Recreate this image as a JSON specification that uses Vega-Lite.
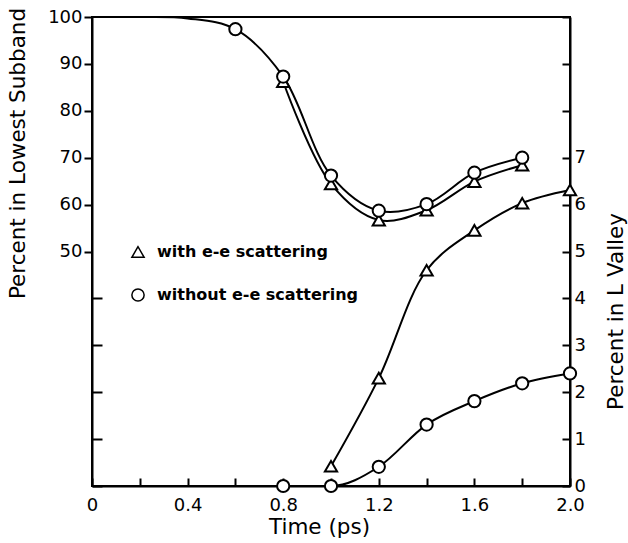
{
  "$schema": "https://vega.github.io/schema/vega-lite/v6.json",
  "width": 478,
  "height": 469,
  "autosize": {"type": "none"},
  "padding": {"left": 92, "top": 17, "right": 58, "bottom": 57},
  "background": "white",
  "config": {
    "font": "DejaVu Sans",
    "view": {"stroke": "black", "strokeWidth": 2},
    "axis": {
      "domainColor": "black", "domainWidth": 2,
      "tickColor": "black", "tickWidth": 2,
      "labelColor": "black", "titleColor": "black",
      "labelFont": "DejaVu Sans", "titleFont": "DejaVu Sans",
      "labelFontSize": 18, "titleFontSize": 21.5, "titleFontWeight": "normal",
      "grid": false
    }
  },
  "data": {
    "values": [
      {"quantity": "subband", "scattering": "with e-e scattering", "time": 0.8, "percent": 86.2, "marked": true},
      {"quantity": "subband", "scattering": "with e-e scattering", "time": 1.0, "percent": 64.4, "marked": true},
      {"quantity": "subband", "scattering": "with e-e scattering", "time": 1.2, "percent": 56.7, "marked": true},
      {"quantity": "subband", "scattering": "with e-e scattering", "time": 1.4, "percent": 58.8, "marked": true},
      {"quantity": "subband", "scattering": "with e-e scattering", "time": 1.6, "percent": 64.9, "marked": true},
      {"quantity": "subband", "scattering": "with e-e scattering", "time": 1.8, "percent": 68.4, "marked": true},
      {"quantity": "subband", "scattering": "without e-e scattering", "time": 0.0, "percent": 100, "marked": false},
      {"quantity": "subband", "scattering": "without e-e scattering", "time": 0.2, "percent": 100, "marked": false},
      {"quantity": "subband", "scattering": "without e-e scattering", "time": 0.4, "percent": 99.7, "marked": false},
      {"quantity": "subband", "scattering": "without e-e scattering", "time": 0.6, "percent": 97.4, "marked": true},
      {"quantity": "subband", "scattering": "without e-e scattering", "time": 0.8, "percent": 87.3, "marked": true},
      {"quantity": "subband", "scattering": "without e-e scattering", "time": 1.0, "percent": 66.2, "marked": true},
      {"quantity": "subband", "scattering": "without e-e scattering", "time": 1.2, "percent": 58.7, "marked": true},
      {"quantity": "subband", "scattering": "without e-e scattering", "time": 1.4, "percent": 60.1, "marked": true},
      {"quantity": "subband", "scattering": "without e-e scattering", "time": 1.6, "percent": 66.8, "marked": true},
      {"quantity": "subband", "scattering": "without e-e scattering", "time": 1.8, "percent": 70.0, "marked": true},
      {"quantity": "lvalley", "scattering": "with e-e scattering", "time": 1.0, "percent": 0.42, "marked": true},
      {"quantity": "lvalley", "scattering": "with e-e scattering", "time": 1.2, "percent": 2.3, "marked": true},
      {"quantity": "lvalley", "scattering": "with e-e scattering", "time": 1.4, "percent": 4.6, "marked": true},
      {"quantity": "lvalley", "scattering": "with e-e scattering", "time": 1.6, "percent": 5.45, "marked": true},
      {"quantity": "lvalley", "scattering": "with e-e scattering", "time": 1.8, "percent": 6.03, "marked": true},
      {"quantity": "lvalley", "scattering": "with e-e scattering", "time": 2.0, "percent": 6.31, "marked": true},
      {"quantity": "lvalley", "scattering": "without e-e scattering", "time": 0.8, "percent": 0, "marked": true},
      {"quantity": "lvalley", "scattering": "without e-e scattering", "time": 1.0, "percent": 0, "marked": true},
      {"quantity": "lvalley", "scattering": "without e-e scattering", "time": 1.2, "percent": 0.41, "marked": true},
      {"quantity": "lvalley", "scattering": "without e-e scattering", "time": 1.4, "percent": 1.31, "marked": true},
      {"quantity": "lvalley", "scattering": "without e-e scattering", "time": 1.6, "percent": 1.81, "marked": true},
      {"quantity": "lvalley", "scattering": "without e-e scattering", "time": 1.8, "percent": 2.19, "marked": true},
      {"quantity": "lvalley", "scattering": "without e-e scattering", "time": 2.0, "percent": 2.4, "marked": true}
    ]
  },
  "encoding": {
    "x": {
      "field": "time", "type": "quantitative",
      "scale": {"domain": [0, 2], "nice": false, "zero": false},
      "axis": {
        "title": "Time (ps)",
        "values": [0, 0.2, 0.4, 0.6, 0.8, 1.0, 1.2, 1.4, 1.6, 1.8, 2.0],
        "labelExpr": "round(datum.value*10) % 4 == 0 ? (datum.value == 0 ? '0' : format(datum.value, '.1f')) : ''",
        "tickSize": -8,
        "labelPadding": 18,
        "labelFlush": false,
        "labelOverlap": false,
        "titleX": 227,
        "titleY": 41,
        "titleAlign": "center",
        "titleBaseline": "middle"
      }
    }
  },
  "layer": [
    {
      "transform": [{"filter": "datum.quantity == 'subband'"}],
      "encoding": {
        "y": {
          "field": "percent", "type": "quantitative",
          "scale": {"domain": [0, 100], "nice": false},
          "axis": {
            "orient": "left",
            "title": "Percent in Lowest Subband",
            "values": [0, 10, 20, 30, 40, 50, 60, 70, 80, 90, 100],
            "labelExpr": "datum.value >= 50 ? datum.label : ''",
            "tickSize": {"condition": {"test": "datum.value < 50", "value": -10}, "value": 8},
            "labelPadding": 2,
            "labelFlush": false,
            "labelOverlap": false,
            "titleAngle": 270,
            "titleX": -74,
            "titleY": 136,
            "titleAlign": "center",
            "titleBaseline": "middle"
          }
        }
      },
      "layer": [
        {
          "mark": {"type": "line", "interpolate": "catmull-rom", "color": "black", "strokeWidth": 2},
          "encoding": {"detail": {"field": "scattering", "type": "nominal"}}
        },
        {
          "transform": [{"filter": "datum.marked"}],
          "mark": {"type": "point", "filled": true, "color": "black", "fill": "white", "stroke": "black", "strokeWidth": 2, "opacity": 1, "fillOpacity": 1, "size": 150},
          "encoding": {
            "shape": {
              "field": "scattering", "type": "nominal",
              "scale": {"domain": ["with e-e scattering", "without e-e scattering"], "range": ["triangle-up", "circle"]},
              "legend": {
                "orient": "none", "legendX": 38, "legendY": 227, "title": null,
                "labelFont": "DejaVu Sans", "labelFontWeight": "bold", "labelFontSize": 16, "labelColor": "black",
                "labelLimit": 400,
                "symbolSize": 150,
                "rowPadding": 24, "labelOffset": 11, "padding": 0,
                "encode": {
                  "symbols": {
                    "update": {
                      "fill": {"value": "white"},
                      "stroke": {"value": "black"},
                      "strokeWidth": {"value": 2},
                      "opacity": {"value": 1},
                      "fillOpacity": {"value": 1},
                      "strokeOpacity": {"value": 1}
                    }
                  }
                }
              }
            }
          }
        }
      ]
    },
    {
      "transform": [{"filter": "datum.quantity == 'lvalley'"}],
      "encoding": {
        "y": {
          "field": "percent", "type": "quantitative",
          "scale": {"domain": [0, 10], "nice": false},
          "axis": {
            "orient": "right",
            "title": "Percent in L Valley",
            "values": [0, 1, 2, 3, 4, 5, 6, 7, 8, 9, 10],
            "labelExpr": "datum.value <= 7 ? datum.label : ''",
            "tickSize": -8,
            "labelPadding": 12,
            "labelFlush": false,
            "labelOverlap": false,
            "titleAngle": 270,
            "titleX": 46,
            "titleY": 294,
            "titleAlign": "center",
            "titleBaseline": "middle"
          }
        }
      },
      "layer": [
        {
          "transform": [{"filter": "datum.scattering == 'with e-e scattering'"}],
          "mark": {"type": "line", "interpolate": "catmull-rom", "color": "black", "strokeWidth": 2},
          "encoding": {}
        },
        {
          "transform": [{"filter": "datum.scattering == 'without e-e scattering'"}],
          "mark": {"type": "line", "interpolate": "monotone", "color": "black", "strokeWidth": 2},
          "encoding": {}
        },
        {
          "mark": {"type": "point", "filled": true, "color": "black", "fill": "white", "stroke": "black", "strokeWidth": 2, "opacity": 1, "fillOpacity": 1, "size": 150},
          "encoding": {
            "shape": {"field": "scattering", "type": "nominal"}
          }
        }
      ]
    }
  ],
  "resolve": {"scale": {"y": "independent"}}
}
